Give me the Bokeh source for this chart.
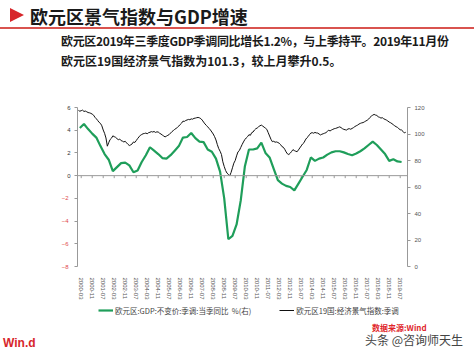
import numpy as np
from bokeh.plotting import figure
from bokeh.models import (Range1d, LinearAxis, FixedTicker, Span, Legend, LegendItem, Div)
from bokeh.layouts import column
from bokeh.embed import file_html
from bokeh.resources import INLINE

FONT = "Noto Sans CJK SC"
W = 474
GREEN = "#1f9e5a"
BLACK = "#111111"

# ---------------- data ----------------
title = "欧元区景气指数与GDP增速"
subtitle1 = "欧元区2019年三季度GDP季调同比增长1.2%，与上季持平。2019年11月份"
subtitle2 = "欧元区19国经济景气指数为101.3，较上月攀升0.5。"
source_note = "数据来源:Wind"
logo = "Win.d"
watermark = "头条 @咨询师天生"

gdp_label = "欧元区:GDP:不变价:季调:当季同比  %(右)"
esi_label = "欧元区19国:经济景气指数:季调"

# Euro area real GDP y/y, %, quarterly 2000Q1 .. 2019Q3
gdp = [
    4.2, 4.55, 4.1, 3.7,
    3.35, 2.6, 1.9, 1.4,
    0.4, 0.75, 1.1, 1.15,
    0.9, 0.3, 0.45, 1.2,
    1.8, 2.5, 2.2, 1.9,
    1.55, 1.5, 1.8, 2.2,
    2.6, 3.35, 3.4, 3.75,
    3.3, 3.0, 2.95, 2.3,
    2.1, 1.5, 0.35, -2.0,
    -5.6, -5.3, -4.3, -2.2,
    0.8, 2.3, 2.3, 2.4,
    2.9, 2.0, 1.6, 0.6,
    -0.4, -0.7, -0.9, -1.0,
    -1.3, -0.7, -0.1, 0.5,
    1.6, 1.3, 1.5, 1.6,
    1.85, 2.05, 2.15, 2.15,
    2.05, 1.9, 1.8, 1.95,
    2.15, 2.4, 2.7, 3.0,
    2.7, 2.3, 1.9, 1.3,
    1.45, 1.25, 1.2,
]

# Euro area 19 economic sentiment index, monthly 2000-01 .. 2019-11
esi = [
    117.8, 117.2, 117.6, 118.0, 117.0, 117.3, 116.8, 116.2, 116.0, 115.6, 115.0, 114.2,
    112.6, 111.5, 110.2, 108.8, 108.0, 106.2, 103.0, 100.5, 97.0, 90.8, 93.5, 95.8,
    96.8, 98.6, 98.0, 97.5, 96.5, 95.7, 96.2, 95.0, 94.6, 94.0, 94.5, 93.3,
    92.2, 91.3, 91.8, 92.5, 94.0, 93.6, 95.0, 96.5, 97.8, 99.0, 99.6, 100.2,
    100.4, 100.7, 100.2, 101.0, 101.3, 101.8, 101.5, 101.9, 101.2, 101.6, 101.5, 100.6,
    100.0, 99.2, 98.5, 97.8, 98.4, 99.0, 99.6, 100.7, 101.8, 102.6, 103.5, 104.2,
    105.0, 106.0, 107.2, 108.2, 109.7, 109.5, 110.2, 110.6, 111.0, 110.8, 111.4, 111.2,
    111.8, 112.0, 112.3, 112.5, 112.2, 111.6, 110.5, 109.0, 107.6, 106.5, 105.4, 104.2,
    103.0, 101.5, 100.0, 98.0, 95.5, 92.0, 89.0, 87.0, 84.5, 79.0, 75.5, 72.5,
    70.5, 69.5, 68.5, 71.0, 74.5, 78.0, 80.0, 83.5, 86.5, 87.5, 89.8, 92.0,
    94.0, 95.8, 97.0, 98.0, 99.5, 99.0, 101.0, 101.5, 103.0, 104.0, 104.5, 105.5,
    106.2, 106.7, 106.0, 105.2, 104.4, 103.5, 101.0, 98.5, 96.0, 94.2, 94.5, 93.8,
    94.0, 93.6, 93.0, 92.0, 90.5, 90.0, 88.5, 86.5, 85.0, 84.5, 85.5, 86.8,
    88.2, 87.5, 87.0, 86.6, 88.0, 89.5, 91.0, 92.5, 93.4, 95.5, 97.0, 98.0,
    99.5, 100.7, 101.0, 100.6, 101.2, 100.8, 100.7, 100.0, 99.3, 99.8, 100.2, 100.6,
    101.0, 102.0, 102.8, 102.3, 103.0, 103.5, 104.0, 104.2, 104.6, 105.0, 105.4, 104.8,
    104.0, 103.5, 103.2, 103.0, 103.8, 104.0, 103.6, 104.2, 104.8, 105.6, 106.2, 106.7,
    107.5, 108.0, 108.4, 108.6, 109.2, 109.8, 110.4, 111.2, 112.5, 113.5, 114.2, 114.8,
    114.3, 114.0, 113.0, 112.6, 112.0, 112.3, 111.5, 111.0, 110.5, 109.8, 109.0, 108.5,
    107.8, 107.0, 106.2, 105.5, 105.0, 104.0, 103.2, 103.0, 102.0, 100.8, 101.3,
]

x_tick_labels = [
    "2000-03", "2000-11", "2001-07", "2002-03", "2002-11", "2003-07", "2004-03", "2004-11",
    "2005-07", "2006-03", "2006-11", "2007-07", "2008-03", "2008-11", "2009-07", "2010-03",
    "2010-11", "2011-07", "2012-03", "2012-11", "2013-07", "2014-03", "2014-11", "2015-07",
    "2016-03", "2016-11", "2017-07", "2018-03", "2018-11", "2019-07",
]
left_ticks = [-8, -6, -4, -2, 0, 2, 4, 6]
right_ticks = [0, 20, 40, 60, 80, 100, 120]

# month index from 2000-01
esi_x = np.arange(len(esi))
gdp_x = np.arange(len(gdp)) * 3 + 1          # middle month of each quarter
x_ticks = [(int(s[:4]) - 2000) * 12 + int(s[5:]) - 1 for s in x_tick_labels]

# ---------------- header (HTML text) ----------------
hdr_html = f"""
<div style="position:relative;width:{W}px;height:90px;font-family:'{FONT}';color:#1a1a1a;">
  <div style="position:absolute;left:10px;top:8px;width:0;height:0;
       border-top:7.5px solid transparent;border-bottom:7.5px solid transparent;
       border-left:14px solid #d7262b;"></div>
  <div style="position:absolute;left:30px;top:3px;font-size:18px;font-weight:bold;
       line-height:26px;white-space:nowrap;">{title}</div>
  <div style="position:absolute;left:0;top:27px;width:{W}px;height:1.5px;background:#d9534f;"></div>
  <div style="position:absolute;left:61px;top:33px;font-size:12px;font-weight:bold;
       line-height:16px;letter-spacing:-0.35px;white-space:nowrap;">{subtitle1}</div>
  <div style="position:absolute;left:61px;top:53px;font-size:12px;font-weight:bold;
       line-height:16px;white-space:nowrap;">{subtitle2}</div>
</div>
"""
hdr = Div(text=hdr_html, width=W, height=90, margin=(0, 0, 0, 0))

# ---------------- chart ----------------
p = figure(width=W, height=212, x_range=Range1d(-0.7, 239.3), y_range=Range1d(-8, 6),
           toolbar_location=None, output_backend="svg",
           min_border_left=77, min_border_right=67, min_border_top=17, min_border_bottom=32,
           outline_line_color=None)
p.grid.visible = False
p.extra_y_ranges = {"esi": Range1d(0, 120)}

# left axis: positive labels (dark) next to the frame
ly = p.yaxis[0]
ly.ticker = FixedTicker(ticks=left_ticks)
ly.major_label_overrides = {t: "" for t in left_ticks if t < 0}
ly.axis_line_color = "#999999"
ly.major_tick_line_color = "#999999"
ly.major_tick_out = 3
ly.major_tick_in = 0
ly.minor_tick_line_color = None
ly.major_label_text_font_size = "6px"
ly.major_label_text_color = "#333333"
ly.major_label_standoff = 4

# second left axis: negative labels (red), pulled back in line with the others
ly2 = LinearAxis(ticker=FixedTicker(ticks=[t for t in left_ticks if t < 0]))
ly2.axis_line_color = None
ly2.major_tick_line_color = None
ly2.minor_tick_line_color = None
ly2.major_tick_out = 0
ly2.major_tick_in = 0
ly2.major_label_text_font_size = "6px"
ly2.major_label_text_color = "#e0474c"
ly2.major_label_standoff = -4
p.add_layout(ly2, "left")

# right axis
ry = LinearAxis(y_range_name="esi", ticker=FixedTicker(ticks=right_ticks))
ry.axis_line_color = "#999999"
ry.major_tick_line_color = "#999999"
ry.major_tick_out = 3
ry.major_tick_in = 0
ry.minor_tick_line_color = None
ry.major_label_text_font_size = "6px"
ry.major_label_text_color = "#555555"
ry.major_label_standoff = 4
p.add_layout(ry, "right")

# bottom axis (labels only)
bx = p.xaxis[0]
bx.ticker = FixedTicker(ticks=x_ticks)
bx.major_label_overrides = dict(zip(x_ticks, x_tick_labels))
bx.major_label_orientation = "vertical"
bx.axis_line_color = None
bx.major_tick_line_color = None
bx.minor_tick_line_color = None
bx.major_label_text_font_size = "6px"
bx.major_label_text_color = "#555555"
bx.major_label_standoff = 5

# zero line with ticks
p.add_layout(Span(location=0, dimension="width", line_color="#999999", line_width=1))
p.segment(x0=x_ticks, y0=[0] * len(x_ticks), x1=x_ticks, y1=[-0.22] * len(x_ticks),
          line_color="#999999", line_width=1)

p.line(esi_x, esi, y_range_name="esi", line_color=BLACK, line_width=1)
p.line(gdp_x, gdp, line_color=GREEN, line_width=2.2)

# ---------------- legend strip ----------------
# same series drawn again (out of view) only so the legend has keys of its own
lg = figure(width=W, height=16, x_range=Range1d(-20, -10), y_range=Range1d(0, 1),
            x_axis_type=None, y_axis_type=None, toolbar_location=None,
            output_backend="svg", min_border_left=77, min_border_right=67,
            min_border_top=0, min_border_bottom=0, outline_line_color=None)
g_key = lg.line(gdp_x, gdp, line_color=GREEN, line_width=2.2)
b_key = lg.line(esi_x, esi, line_color=BLACK, line_width=1)
legend = Legend(items=[LegendItem(label=gdp_label, renderers=[g_key]),
                       LegendItem(label=esi_label, renderers=[b_key])],
                orientation="horizontal", location=(21, 2),
                border_line_color=None, background_fill_alpha=0,
                label_text_font=FONT, label_text_font_size="7.5px",
                label_text_color="#444444",
                glyph_width=15, glyph_height=8, spacing=28, padding=0, margin=0,
                label_standoff=2, label_height=12)
lg.add_layout(legend)

# ---------------- footer (HTML text) ----------------
ftr_html = f"""
<div style="position:relative;width:{W}px;height:37px;font-family:'{FONT}';">
  <div style="position:absolute;left:372px;top:4.5px;font-size:8px;font-weight:bold;
       line-height:9px;color:#e0262b;white-space:nowrap;">{source_note}</div>
  <div style="position:absolute;left:3px;top:18px;font-size:12px;font-weight:bold;
       line-height:14px;color:#d7262b;font-family:'Liberation Sans';white-space:nowrap;">{logo}</div>
  <div style="position:absolute;left:365px;top:15px;font-size:12px;
       line-height:13px;color:#444444;white-space:nowrap;">{watermark}</div>
</div>
"""
ftr = Div(text=ftr_html, width=W, height=37, margin=(0, 0, 0, 0))

layout = column(hdr, p, lg, ftr, spacing=0)
open("out.html", "w").write(file_html(layout, INLINE))
